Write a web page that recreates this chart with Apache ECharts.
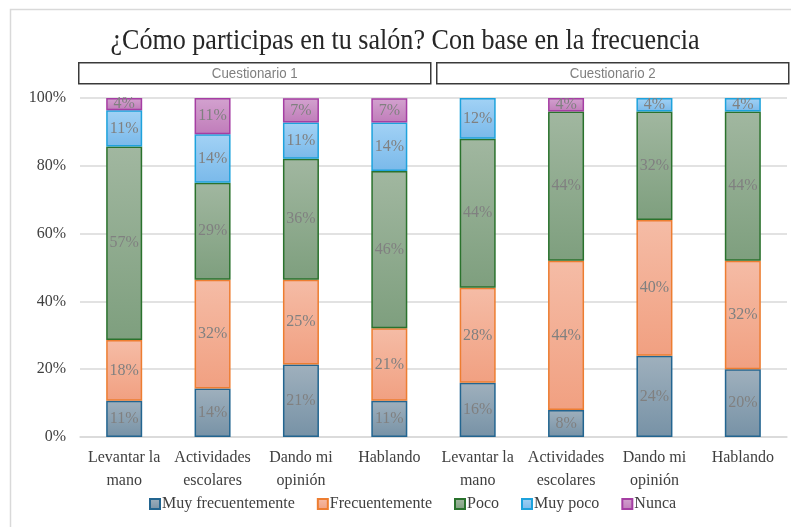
<!DOCTYPE html>
<html>
<head>
<meta charset="utf-8">
<script src="https://cdn.jsdelivr.net/npm/echarts@6/dist/echarts.min.js"></script>
<style>
  html, body { margin: 0; padding: 0; background: #fff; }
  #chart { width: 791px; height: 527px; }
</style>
</head>
<body>
<div id="chart"></div>
<script>
// categorias (Cuestionario 1 + Cuestionario 2)
const categories = [
  'Levantar la\nmano', 'Actividades\nescolares', 'Dando mi\nopinión', 'Hablando',
  'Levantar la\nmano', 'Actividades\nescolares', 'Dando mi\nopinión', 'Hablando'
];
const groups = ['Cuestionario 1', 'Cuestionario 2'];
const yTicks = [0, 20, 40, 60, 80, 100];

// porcentajes por serie (null = sin respuesta)
const muyFrecuentemente = [10.7, 14.3, 21.4, 10.7, 16, 8, 24, 20];
const frecuentemente    = [17.9, 32.1, 25.0, 21.4, 28, 44, 40, 32];
const poco              = [57.1, 28.6, 35.7, 46.4, 44, 44, 32, 44];
const muyPoco           = [10.7, 14.3, 10.7, 14.3, 12, null, 4, 4];
const nunca             = [3.6, 10.7, 7.1, 7.1, null, 4, null, null];

const serif = "'Liberation Serif', 'DejaVu Serif', serif";
const narrow = "'Liberation Sans Narrow', 'Liberation Sans', sans-serif";

const grad = (top, bottom) => new echarts.graphic.LinearGradient(0, 0, 0, 1, [
  {offset: 0, color: top},
  {offset: 1, color: bottom}
]);

const seriesDefs = [
  {name: 'Muy frecuentemente', data: muyFrecuentemente, top: '#9fb0bd', bottom: '#7792a6', border: '#236590'},
  {name: 'Frecuentemente', data: frecuentemente, top: '#f5bca6', bottom: '#f1a081', border: '#ed7d31'},
  {name: 'Poco', data: poco, top: '#a1b7a0', bottom: '#7e9f7e', border: '#2a722d'},
  {name: 'Muy poco', data: muyPoco, top: '#a2d2f5', bottom: '#7ab9ea', border: '#1ea2dc'},
  {name: 'Nunca', data: nunca, top: '#d3a2cf', bottom: '#c07cba', border: '#a53ea3'}
];

const headerBox = (left, label) => ({
  type: 'group', left: left, top: 62,
  children: [
    {type: 'rect', shape: {x: 0, y: 0, width: 352, height: 21},
     style: {fill: '#fff', stroke: '#3a3a3a', lineWidth: 1.5}},
    {type: 'text', x: 176, y: 11, scaleX: 0.95,
     style: {text: label, fill: '#7f7f7f', font: '14px ' + narrow, align: 'center', verticalAlign: 'middle'}}
  ]
});

const chart = echarts.init(document.getElementById('chart'));

const option = {
  animation: false,
  graphic: [
    {
      type: 'rect', left: 8, top: 7, silent: true,
      shape: {width: 820, height: 560},
      style: {fill: 'none', stroke: '#d9d9d9', lineWidth: 1.5}
    },
    {
      type: 'text', x: 405, y: 41, scaleX: 0.87,
      style: {
        text: '¿Cómo participas en tu salón? Con base en la frecuencia',
        font: '30px ' + serif, fill: '#262626', align: 'center', verticalAlign: 'middle'
      }
    },
    headerBox(78, groups[0]),
    headerBox(436, groups[1])
  ],
  legend: {
    bottom: 10,
    left: 144,
    icon: 'rect',
    itemWidth: 10,
    itemHeight: 10,
    itemGap: 22,
    textStyle: {fontFamily: serif, fontSize: 16, color: '#404040', padding: [0, 0, 0, -3]},
    data: seriesDefs.map(s => s.name)
  },
  grid: {left: 80, right: 4, top: 98, bottom: 90},
  xAxis: {
    type: 'category',
    data: categories,
    axisTick: {show: false},
    axisLine: {lineStyle: {color: '#d9d9d9', width: 1.5}},
    axisLabel: {
      interval: 0,
      margin: 9,
      fontFamily: serif,
      fontSize: 16,
      lineHeight: 23,
      color: '#404040'
    }
  },
  yAxis: {
    type: 'value',
    min: yTicks[0],
    max: yTicks[yTicks.length - 1],
    interval: 20,
    axisLabel: {formatter: '{value}%', fontFamily: serif, fontSize: 16, color: '#404040', margin: 14},
    axisLine: {show: false},
    axisTick: {show: false},
    splitLine: {lineStyle: {color: '#d9d9d9', width: 1.5}}
  },
  series: seriesDefs.map(s => ({
    name: s.name,
    type: 'bar',
    stack: 'total',
    barWidth: 36,
    data: s.data.map(v => (v == null ? '-' : v)),
    itemStyle: {
      color: grad(s.top, s.bottom),
      borderColor: s.border,
      borderWidth: 1.5
    },
    label: {
      show: true,
      position: 'inside',
      fontFamily: serif,
      fontSize: 16,
      color: '#808080',
      formatter: p => Math.round(p.value) + '%'
    }
  }))
};

chart.setOption(option);
</script>
</body>
</html>
